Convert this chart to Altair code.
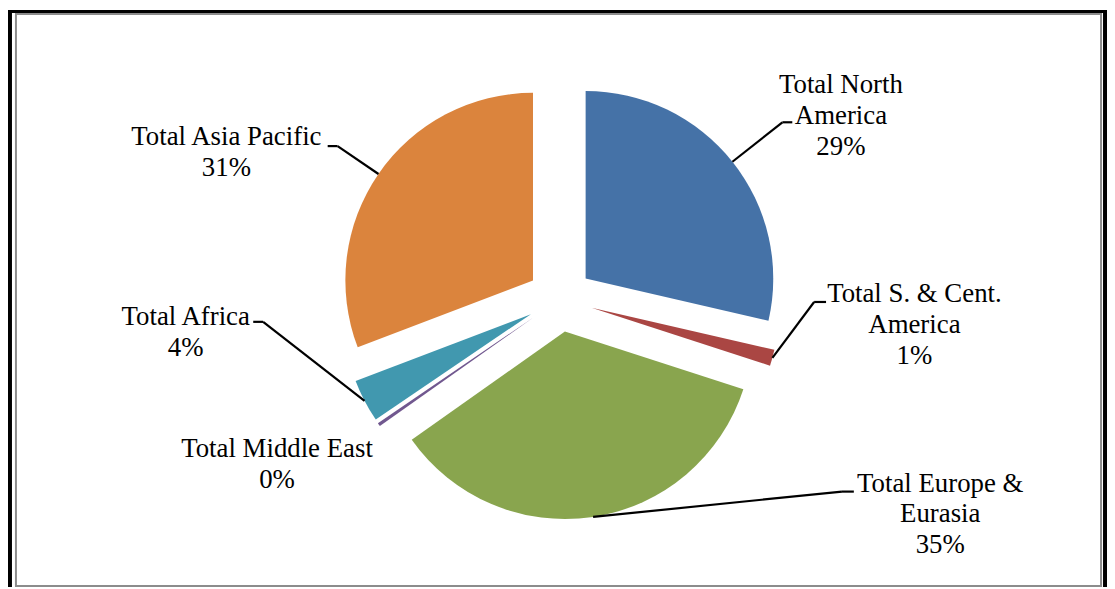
import altair as alt
import pandas as pd

# ---- data ----
categories = [
    "Total North America",
    "Total S. & Cent. America",
    "Total Europe & Eurasia",
    "Total Middle East",
    "Total Africa",
    "Total Asia Pacific",
]
shares = [28.6, 1.4, 35.2, 0.3, 3.7, 30.8]
colors = ["#4572A7", "#AA4643", "#89A54E", "#71588F", "#4198AF", "#DB843D"]

# ---- layout (label wrapping and placement, in view pixels) ----
label_lines = [
    "Total North\nAmerica",
    "Total S. & Cent.\nAmerica",
    "Total Europe &\nEurasia",
    "Total Middle East",
    "Total Africa",
    "Total Asia Pacific",
]
label_x = [839, 913, 939, 271, 179, 220]
label_y = [84, 294, 485, 450, 317, 136]
has_leader = [True, True, True, False, True, True]
elbow_x = [780, 812, 840, 0, 257, 332]
elbow_y = [113, 294, 485, 0, 314, 137]
end_x = [790, 824, 852, 0, 247, 322]
end_y = [113, 294, 485, 0, 314, 137]

W, H = 1107, 581
CX, CY = 556, 291     # pie centre
D = 33                # explosion distance
R = 189               # pie radius
FONT = "Liberation Serif, Times New Roman, Times, serif"

df = pd.DataFrame({
    "category": categories,
    "share": shares,
    "order": list(range(len(categories))),
    "label": label_lines,
    "tx": label_x,
    "ty": label_y,
    "leader": has_leader,
    "bx": elbow_x,
    "by": elbow_y,
    "ex": end_x,
    "ey": end_y,
})

base = (
    alt.Chart(df)
    .transform_joinaggregate(total="sum(share)")
    .transform_window(cum="sum(share)", sort=[alt.SortField("order")], frame=[None, 0])
    .transform_calculate(
        f0="(datum.cum - datum.share) / datum.total",
        f1="datum.cum / datum.total",
        mid="(datum.f0 + datum.f1) * PI",
        cx=f"{CX} + {D} * sin(datum.mid)",
        cy=f"{CY} - {D} * cos(datum.mid)",
        sx=f"datum.cx + {R} * sin(datum.mid)",
        sy=f"datum.cy - {R} * cos(datum.mid)",
        labeltext="datum.label + '\\n' + format(datum.share / datum.total, '.0%')",
    )
)

arcs = base.mark_arc(radius=R).encode(
    theta=alt.Theta("f0:Q", stack=None,
                    scale=alt.Scale(domain=[0, 1], range=[0, 6.283185307179586])),
    theta2="f1:Q",
    x=alt.X("cx:Q", scale=None),
    y=alt.Y("cy:Q", scale=None),
    color=alt.Color("category:N", scale=alt.Scale(domain=categories, range=colors), legend=None),
)

lead1 = base.transform_filter("datum.leader").mark_rule(color="black", strokeWidth=2.2).encode(
    x=alt.X("sx:Q", scale=None),
    y=alt.Y("sy:Q", scale=None),
    x2="bx:Q",
    y2="by:Q",
)
lead2 = base.transform_filter("datum.leader").mark_rule(color="black", strokeWidth=2.2).encode(
    x=alt.X("bx:Q", scale=None),
    y=alt.Y("by:Q", scale=None),
    x2="ex:Q",
    y2="ey:Q",
)

texts = base.mark_text(
    font=FONT, fontSize=27, lineBreak="\n", lineHeight=31,
    align="center", baseline="alphabetic", color="black",
).encode(
    x=alt.X("tx:Q", scale=None),
    y=alt.Y("ty:Q", scale=None),
    text="labeltext:N",
)

one = pd.DataFrame({"k": [0]})
frame_black = alt.Chart(one).mark_rect(color="black").encode(
    x=alt.value(0), x2=alt.value(W), y=alt.value(0), y2=alt.value(H)
)
frame_white = alt.Chart(one).mark_rect(color="white").encode(
    x=alt.value(4), x2=alt.value(1103), y=alt.value(3), y2=alt.value(H + 5)
)
frame_gray = alt.Chart(one).mark_rect(fill="white", stroke="#8c8c8c", strokeWidth=2).encode(
    x=alt.value(8), x2=alt.value(1101), y=alt.value(4), y2=alt.value(580)
)

chart = (
    alt.layer(frame_black, frame_white, frame_gray, arcs, lead1, lead2, texts)
    .properties(width=W, height=H, autosize="none", padding=0)
    .configure_view(stroke=None)
)

chart.save("out.html", embed_options={"renderer": "svg", "actions": False})
